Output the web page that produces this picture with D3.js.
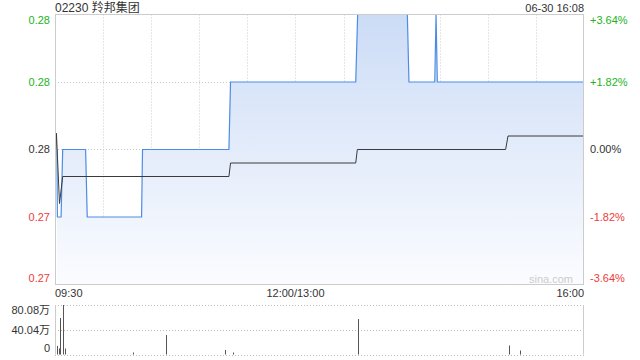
<!DOCTYPE html>
<html>
<head>
<meta charset="utf-8">
<script src="https://cdn.jsdelivr.net/npm/d3@7"></script>
<style>
  body { margin: 0; background: #fff; }
  svg text { font-family: "Liberation Sans", Arial, "Noto Sans CJK SC", sans-serif; }
</style>
</head>
<body>
<script>
// minutes counted from 09:30 on trading time (lunch 12:00-13:00 removed), 330 in total
var priceMin = [1.2, 1.5, 3.8, 4.8, 19.1, 20.1, 54.0, 54.6, 108.5, 109.5, 187.6, 188.8, 219.8, 220.8, 236.9, 237.7, 238.5, 330];
var priceVal = [0.275, 0.270, 0.270, 0.275, 0.275, 0.270, 0.270, 0.275, 0.275, 0.280, 0.280, 0.285, 0.285, 0.280, 0.280, 0.285, 0.280, 0.280];

var avgMin = [0.6, 0.9, 2.8, 4.8, 108.5, 109.5, 187.6, 188.6, 281.1, 282.6, 330];
var avgVal = [0.2750, 0.2762, 0.2710, 0.2730, 0.2730, 0.2740, 0.2740, 0.2750, 0.2750, 0.2760, 0.2760];

// volume in 万 shares
var volMin = [1.4, 2.7, 3.3, 5.2, 6.4, 48.5, 69.4, 106.2, 110.9, 189.2, 283.4, 290.3];
var volVal = [13.8, 9.7, 59.0, 80.08, 9.7, 3.2, 31.5, 7.3, 3.2, 57.4, 14.6, 6.5];

var prevClose = 0.275;
var priceTicks = [0.285, 0.280, 0.275, 0.270, 0.265];
var priceLabels = ["0.28", "0.28", "0.28", "0.27", "0.27"];
var pctLabels = ["+3.64%", "+1.82%", "0.00%", "-1.82%", "-3.64%"];
var volTicks = [80.08, 40.04, 0];
var volLabels = ["80.08万", "40.04万", "0"];
var timeTicks = [0, 150, 330];
var timeLabels = ["09:30", "12:00/13:00", "16:00"];
var title = "02230 羚邦集团";
var stamp = "06-30 16:08";

var w = 640, h = 360;
var pLeft = 55, pRight = 584, pTop = 14.5, pBottom = 284.5;
var vTop = 305, vBottom = 354.5;

var green = "#22b322", red = "#f03a3a", dark = "#333";

var svg = d3.select("body").append("svg")
    .attr("width", w)
    .attr("height", h);

var x = d3.scaleLinear().domain([0, 330]).range([pLeft, pRight]);
var y = d3.scaleLinear().domain([0.265, 0.285]).range([pBottom, pTop]);
var yv = d3.scaleLinear().domain([0, 80.08]).range([vBottom, vTop]);

function tickColor(v) {
  if (Math.abs(v - prevClose) < 1e-9) return dark;
  return v > prevClose ? green : red;
}

// gradient for area
var grad = svg.append("defs").append("linearGradient")
    .attr("id", "fill")
    .attr("gradientUnits", "userSpaceOnUse")
    .attr("x1", 0).attr("y1", pTop).attr("x2", 0).attr("y2", pBottom);
grad.append("stop").attr("offset", 0).attr("stop-color", "rgb(204,220,246)");
grad.append("stop").attr("offset", 1).attr("stop-color", "rgb(251,252,255)");

// grid, price panel
var gridMins = d3.range(30, 330, 30);
svg.append("g").selectAll("line")
   .data(gridMins)
   .enter()
   .append("line")
   .attr("x1", function(d) { return Math.round(x(d)) + 0.5; })
   .attr("x2", function(d) { return Math.round(x(d)) + 0.5; })
   .attr("y1", pTop)
   .attr("y2", pBottom)
   .attr("stroke", "#ccc")
   .attr("stroke-dasharray", "1,2");

svg.append("g").selectAll("line")
   .data(priceTicks.slice(1, 4))
   .enter()
   .append("line")
   .attr("x1", pLeft)
   .attr("x2", pRight)
   .attr("y1", function(d) { return Math.round(y(d)) + 0.5; })
   .attr("y2", function(d) { return Math.round(y(d)) + 0.5; })
   .attr("stroke", "#ccc")
   .attr("stroke-dasharray", "1,2");

// area + price line
var pts = priceMin.map(function(m, i) { return [m, priceVal[i]]; });
svg.append("path")
   .datum(pts)
   .attr("fill", "url(#fill)")
   .attr("d", d3.area()
      .x(function(d) { return x(d[0]); })
      .y0(pBottom)
      .y1(function(d) { return y(d[1]); }));

svg.append("path")
   .datum(pts)
   .attr("fill", "none")
   .attr("stroke", "#4d8ce6")
   .attr("stroke-width", 1.2)
   .attr("d", d3.line()
      .x(function(d) { return x(d[0]); })
      .y(function(d) { return y(d[1]); }));

var avgPts = avgMin.map(function(m, i) { return [m, avgVal[i]]; });
svg.append("path")
   .datum(avgPts)
   .attr("fill", "none")
   .attr("stroke", "#3a3a3a")
   .attr("stroke-width", 1)
   .attr("d", d3.line()
      .x(function(d) { return x(d[0]); })
      .y(function(d) { return y(d[1]); }));

// frame
svg.append("rect")
   .attr("x", pLeft + 0.5)
   .attr("y", pTop)
   .attr("width", pRight - pLeft - 1)
   .attr("height", pBottom - pTop)
   .attr("fill", "none")
   .attr("stroke", "#ccc");

// watermark
svg.append("text")
   .text("sina.com")
   .attr("x", 573)
   .attr("y", 283)
   .attr("text-anchor", "end")
   .attr("font-size", "11px")
   .attr("fill", "#ccc");

// price labels
function labelOffset(i, n) {
  if (i === 0) return 6;
  if (i === n - 1) return -6;
  return 0;
}
svg.append("g").selectAll("text")
   .data(priceTicks)
   .enter()
   .append("text")
   .text(function(d, i) { return priceLabels[i]; })
   .attr("x", 50)
   .attr("y", function(d, i) { return y(d) + labelOffset(i, priceTicks.length); })
   .attr("dy", "0.35em")
   .attr("text-anchor", "end")
   .attr("font-size", "11px")
   .attr("fill", tickColor);

svg.append("g").selectAll("text")
   .data(priceTicks)
   .enter()
   .append("text")
   .text(function(d, i) { return pctLabels[i]; })
   .attr("x", 590)
   .attr("y", function(d, i) { return y(d) + labelOffset(i, priceTicks.length); })
   .attr("dy", "0.35em")
   .attr("font-size", "11px")
   .attr("fill", tickColor);

// time labels
svg.append("g").selectAll("text")
   .data(timeTicks)
   .enter()
   .append("text")
   .text(function(d, i) { return timeLabels[i]; })
   .attr("x", function(d) { return x(d); })
   .attr("y", 297)
   .attr("text-anchor", function(d, i) { return i === 0 ? "start" : (i === timeTicks.length - 1 ? "end" : "middle"); })
   .attr("font-size", "11px")
   .attr("fill", dark);

// title + time stamp
svg.append("text")
   .text(title)
   .attr("x", 55)
   .attr("y", 12)
   .attr("font-size", "12px")
   .attr("fill", dark);

svg.append("text")
   .text(stamp)
   .attr("x", pRight)
   .attr("y", 12)
   .attr("text-anchor", "end")
   .attr("font-size", "11px")
   .attr("fill", dark);

// volume panel
svg.append("g").selectAll("line")
   .data(volTicks)
   .enter()
   .append("line")
   .attr("x1", pLeft)
   .attr("x2", pRight)
   .attr("y1", function(d) { return Math.round(yv(d)) + 0.5; })
   .attr("y2", function(d) { return Math.round(yv(d)) + 0.5; })
   .attr("stroke", "#bbb")
   .attr("stroke-dasharray", "1,2");

svg.append("line")
   .attr("x1", pLeft + 0.5).attr("x2", pLeft + 0.5)
   .attr("y1", vTop).attr("y2", vBottom)
   .attr("stroke", "#ccc");
svg.append("line")
   .attr("x1", pRight - 0.5).attr("x2", pRight - 0.5)
   .attr("y1", vTop).attr("y2", vBottom)
   .attr("stroke", "#ccc");

svg.append("g").selectAll("rect")
   .data(volMin)
   .enter()
   .append("rect")
   .attr("x", function(d) { return Math.round(x(d)); })
   .attr("y", function(d, i) { return yv(volVal[i]); })
   .attr("width", 1)
   .attr("height", function(d, i) { return vBottom - yv(volVal[i]); })
   .attr("fill", "#555");

svg.append("g").selectAll("text")
   .data(volTicks)
   .enter()
   .append("text")
   .text(function(d, i) { return volLabels[i]; })
   .attr("x", 50)
   .attr("y", function(d, i) { return yv(d) + (i === 0 ? 5 : (i === volTicks.length - 1 ? -6 : 0)); })
   .attr("dy", "0.35em")
   .attr("text-anchor", "end")
   .attr("font-size", "11px")
   .attr("fill", dark);
</script>
</body>
</html>
